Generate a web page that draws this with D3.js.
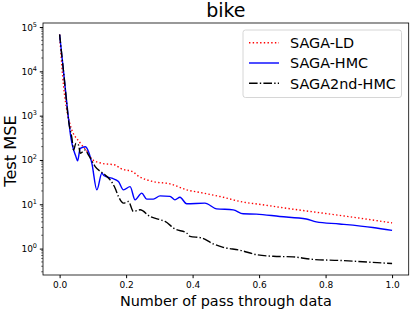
<!DOCTYPE html>
<html>
<head>
<meta charset="utf-8">
<script src="https://cdn.jsdelivr.net/npm/d3@7"></script>
<style>
  body { margin: 0; background: #fff; }
  text { font-family: "DejaVu Sans", sans-serif; fill: #000; }
</style>
</head>
<body>
<script>
// SAGA-LD (red dotted)
const ldX = [0, 0.009, 0.032, 0.062, 0.087, 0.097, 0.127, 0.167, 0.182, 0.222, 0.232, 0.282, 0.332, 0.382, 0.432, 0.482, 0.552, 0.6, 0.7, 0.8, 0.9, 1.0];
const ldY = [68000, 8100, 612, 241, 141, 104, 84, 77, 65, 53, 46, 32.5, 28.9, 21.2, 17.9, 15.0, 11.2, 10.0, 7.8, 6.2, 4.9, 3.8];

// SAGA-HMC (blue solid)
const hmcX = [0, 0.013, 0.029, 0.032, 0.049, 0.054, 0.062, 0.077, 0.087, 0.097, 0.112, 0.127, 0.134, 0.157, 0.177, 0.192, 0.212, 0.227, 0.247, 0.262, 0.282, 0.302, 0.332, 0.347, 0.362, 0.382, 0.437, 0.472, 0.522, 0.552, 0.592, 0.662, 0.742, 0.772, 0.842, 0.942, 1.0];
const hmcY = [68000, 8100, 612, 398, 119, 96, 183, 199, 154, 84, 21.2, 50, 44, 38.8, 32.5, 21.2, 25.1, 12.6, 17.9, 13.1, 13.1, 15.5, 15.1, 12.6, 14.4, 10.3, 10.6, 7.9, 7.5, 6.1, 6.0, 5.3, 4.65, 4.0, 3.6, 3.0, 2.58];

// SAGA2nd-HMC (black dash-dot)
const hmc2X = [0, 0.013, 0.029, 0.032, 0.037, 0.042, 0.049, 0.057, 0.062, 0.077, 0.087, 0.107, 0.137, 0.152, 0.167, 0.177, 0.192, 0.207, 0.222, 0.242, 0.272, 0.302, 0.317, 0.347, 0.382, 0.392, 0.427, 0.462, 0.492, 0.542, 0.592, 0.642, 0.702, 0.762, 0.842, 0.942, 1.0];
const hmc2Y = [68000, 8100, 612, 472, 308, 168, 237, 217, 141, 168, 129, 71, 46, 35.5, 23.1, 15.0, 10.6, 11.6, 6.9, 7.5, 5.3, 4.5, 4.1, 2.77, 2.25, 1.89, 1.74, 1.28, 1.07, 0.92, 0.73, 0.67, 0.65, 0.57, 0.54, 0.49, 0.46];

const xTicks = [0, 0.2, 0.4, 0.6, 0.8, 1.0];
const yTicks = [1, 10, 100, 1000, 10000, 100000];
const seriesNames = ["SAGA-LD", "SAGA-HMC", "SAGA2nd-HMC"];

const W = 415, H = 311;
const margin = {top: 23, right: 6.3, bottom: 36, left: 43};
const width = W - margin.left - margin.right;
const height = H - margin.top - margin.bottom;

const svg = d3.select('body').append('svg')
  .attr('width', W)
  .attr('height', H);

const g = svg.append('g')
  .attr('transform', `translate(${margin.left},${margin.top})`);

const xScale = d3.scaleLinear()
  .domain([-0.05, 1.05])
  .range([0, width]);

// log range with 5% padding like matplotlib
const lo = Math.log10(d3.min(hmc2Y)), hi = Math.log10(d3.max(ldY));
const pad = (hi - lo) * 0.05;
const yScale = d3.scaleLog()
  .domain([Math.pow(10, lo - pad), Math.pow(10, hi + pad)])
  .range([height, 0]);

// clip
svg.append('clipPath').attr('id', 'clip')
  .append('rect').attr('width', width).attr('height', height);

const series = [
  {name: seriesNames[0], x: ldX, y: ldY, color: '#ff0000', dash: '1.4,2.3'},
  {name: seriesNames[1], x: hmcX, y: hmcY, color: '#0000ff', dash: null},
  {name: seriesNames[2], x: hmc2X, y: hmc2Y, color: '#000000', dash: '8.6,2.2,1.4,2.2'}
];

const line = d3.line()
  .x(d => xScale(d[0]))
  .y(d => yScale(d[1]))
  .curve(d3.curveMonotoneX);

const plot = g.append('g').attr('clip-path', 'url(#clip)');
series.forEach(s => {
  plot.append('path')
    .datum(s.x.map((x, i) => [x, s.y[i]]))
    .attr('fill', 'none')
    .attr('stroke', s.color)
    .attr('stroke-width', 1.4)
    .attr('stroke-dasharray', s.dash)
    .attr('d', line);
});

// axes
const xAxis = d3.axisBottom(xScale)
  .tickValues(xTicks)
  .tickFormat(d3.format('.1f'))
  .tickSize(3.2)
  .tickPadding(3);
const xg = g.append('g')
  .attr('transform', `translate(0,${height})`)
  .call(xAxis);
xg.select('.domain').remove();
xg.selectAll('text').attr('font-size', 9).attr('font-family', 'DejaVu Sans').attr('fill', '#000');

// y minor ticks
const minor = [];
for (let e = -1; e <= 5; e++) {
  for (let m = 2; m <= 9; m++) {
    const v = m * Math.pow(10, e);
    if (v >= yScale.domain()[0] && v <= yScale.domain()[1]) minor.push(v);
  }
}
g.append('g').selectAll('line')
  .data(minor).enter().append('line')
  .attr('x1', -1.8).attr('x2', 0)
  .attr('y1', d => yScale(d)).attr('y2', d => yScale(d))
  .attr('stroke', '#000').attr('stroke-width', 0.6);

const yAxis = d3.axisLeft(yScale)
  .tickValues(yTicks)
  .tickFormat('')
  .tickSize(3.2);
const yg = g.append('g').call(yAxis);
yg.select('.domain').remove();

const yLabels = g.append('g').selectAll('text')
  .data(yTicks).enter().append('text')
  .attr('x', -6)
  .attr('y', d => yScale(d) + 3.5)
  .attr('text-anchor', 'end')
  .attr('font-size', 9);
yLabels.append('tspan').text('10');
yLabels.append('tspan')
  .attr('dy', -4)
  .attr('font-size', 6.5)
  .text(d => Math.round(Math.log10(d)));

// frame
g.append('rect')
  .attr('width', width).attr('height', height)
  .attr('fill', 'none')
  .attr('stroke', '#000')
  .attr('stroke-width', 0.8);

// title and labels
svg.append('text')
  .attr('x', margin.left + width / 2)
  .attr('y', 17)
  .attr('text-anchor', 'middle')
  .attr('font-size', 19)
  .text('bike');

svg.append('text')
  .attr('x', margin.left + width / 2)
  .attr('y', 306)
  .attr('text-anchor', 'middle')
  .attr('font-size', 14.4)
  .text('Number of pass through data');

svg.append('text')
  .attr('transform', `translate(15.5,151) rotate(-90)`)
  .attr('text-anchor', 'middle')
  .attr('font-size', 16.2)
  .text('Test MSE');

// legend
const legend = svg.append('g').attr('transform', 'translate(243,30)');
legend.append('rect')
  .attr('width', 158.5).attr('height', 67.5)
  .attr('rx', 2.5)
  .attr('fill', '#fff').attr('fill-opacity', 0.8)
  .attr('stroke', '#cccccc').attr('stroke-width', 0.8);
series.forEach((s, i) => {
  const yy = 12.7 + i * 20.3;
  legend.append('line')
    .attr('x1', 6).attr('x2', 36)
    .attr('y1', yy).attr('y2', yy)
    .attr('stroke', s.color).attr('stroke-width', 1.4)
    .attr('stroke-dasharray', s.dash);
  legend.append('text')
    .attr('x', 47).attr('y', yy + 5.2)
    .attr('font-size', 14.4)
    .text(s.name);
});
</script>
</body>
</html>
